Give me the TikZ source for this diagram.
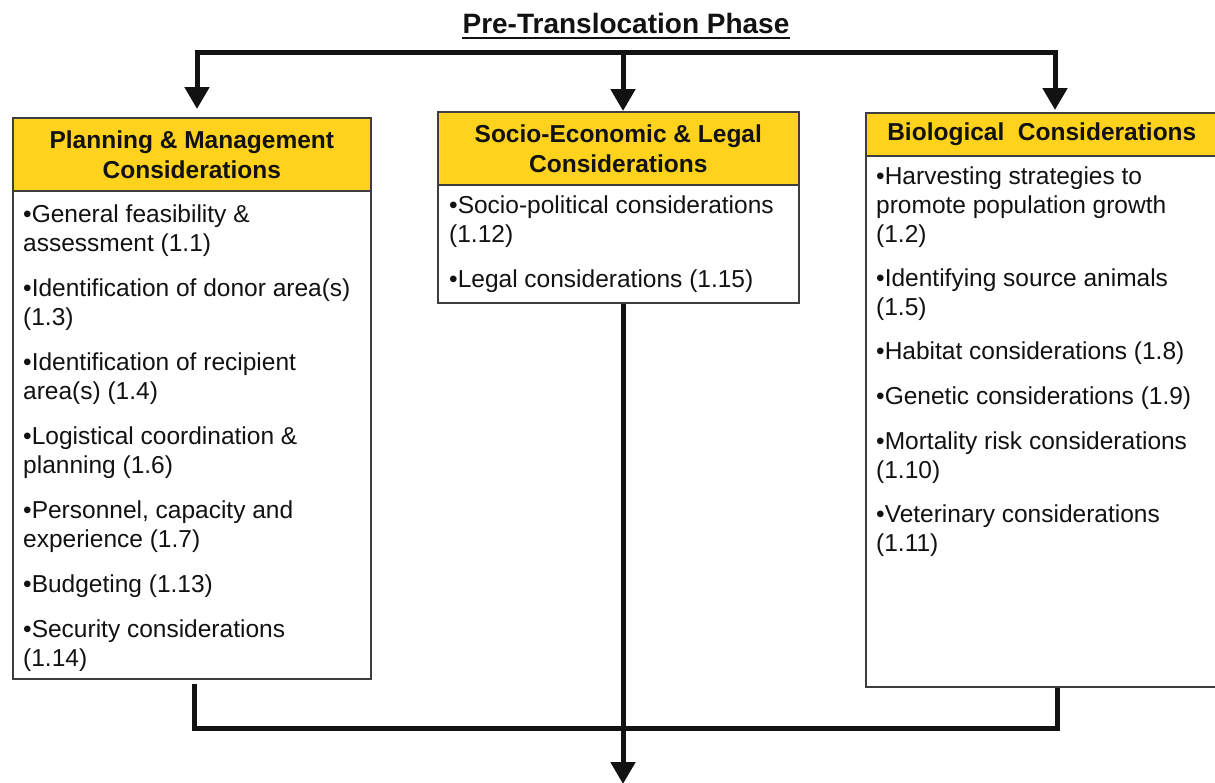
\documentclass[tikz,border=0pt]{standalone}
\usepackage{fontspec}
\setmainfont{Liberation Sans}
\usetikzlibrary{arrows.meta,calc}
\definecolor{hdr}{RGB}{255,210,30}
\definecolor{ink}{RGB}{18,18,18}
\definecolor{edge}{RGB}{62,62,62}
\begin{document}
\begin{tikzpicture}[x=1pt,y=-1pt,
  hdrbox/.style={draw=edge, line width=1.6pt, fill=hdr, inner sep=0pt, anchor=north west, align=center, font=\bfseries\fontsize{24.5}{30}\selectfont, text=ink},
  bodybox/.style={draw=edge, line width=1.6pt, fill=white, inner sep=0pt, anchor=north west},
  bodytext/.style={anchor=north west, inner sep=0pt, align=left, font=\fontsize{24.5}{29}\selectfont, text=ink},
  conn/.style={draw=ink, line width=5pt},
  arr/.style={conn, -{Triangle[width=24pt,length=22pt]}},
]
\clip (0,0) rectangle (1215,782);
\fill[white] (0,0) rectangle (1215,782);

% title
\node[anchor=base, inner sep=0pt, text=ink, font=\bfseries\fontsize{28}{32}\selectfont] (title) at (626,33) {Pre-Translocation Phase};
\draw[ink, line width=2pt] ([yshift=-4.5pt]title.base west) -- ([yshift=-4.5pt]title.base east);

% left box
\node[bodybox, minimum width=358pt, minimum height=488pt] (lbody) at (12,190) {};
\node[hdrbox, minimum width=358pt, minimum height=73pt] (lhead) at (12,117) {Planning \& Management\\Considerations};
\node[bodytext] (ltext) at (23,205) {•General feasibility \&\\assessment (1.1)\\[16pt]•Identification of donor area(s)\\(1.3)\\[16pt]•Identification of recipient\\area(s) (1.4)\\[16pt]•Logistical coordination \&\\planning (1.6)\\[16pt]•Personnel, capacity and\\experience (1.7)\\[16pt]•Budgeting (1.13)\\[16pt]•Security considerations\\(1.14)};

% middle box
\node[bodybox, minimum width=361pt, minimum height=118pt] (mbody) at (437,184) {};
\node[hdrbox, minimum width=361pt, minimum height=73pt] (mhead) at (437,111) {Socio-Economic \& Legal\\Considerations};
\node[bodytext] (mtext) at (449,196) {•Socio-political considerations\\(1.12)\\[16pt]•Legal considerations (1.15)};

% right box
\node[bodybox, minimum width=352pt, minimum height=531pt] (rbody) at (865,155) {};
\node[hdrbox, minimum width=352pt, minimum height=43pt] (rhead) at (865,112) {Biological\ \ Considerations};
\node[bodytext] (rtext) at (876,167) {•Harvesting strategies to\\promote population growth\\(1.2)\\[15pt]•Identifying source animals\\(1.5)\\[15pt]•Habitat considerations (1.8)\\[16pt]•Genetic considerations (1.9)\\[16pt]•Mortality risk considerations\\(1.10)\\[15pt]•Veterinary considerations\\(1.11)};

% top connectors
\coordinate (tM) at (623,52);
\coordinate (tL) at (197,52);
\coordinate (tR) at (1055,52);
\draw[arr] (tM) -| ([yshift=8pt]tL |- lhead.north);
\draw[arr] (tM) -| ([yshift=2pt]tR |- rhead.north);
\draw[arr] (tM) -- (tM |- mhead.north);

% bottom connectors
\coordinate (bL) at (194,728);
\coordinate (bR) at (1057,728);
\coordinate (out) at (623,784);
\draw[conn] ([yshift=-4pt]lbody.south -| bL) -- (bL) -- (bR) -- (rbody.south -| bR);
\draw[arr] (mbody.south -| out) -- (out);
\end{tikzpicture}
\end{document}
